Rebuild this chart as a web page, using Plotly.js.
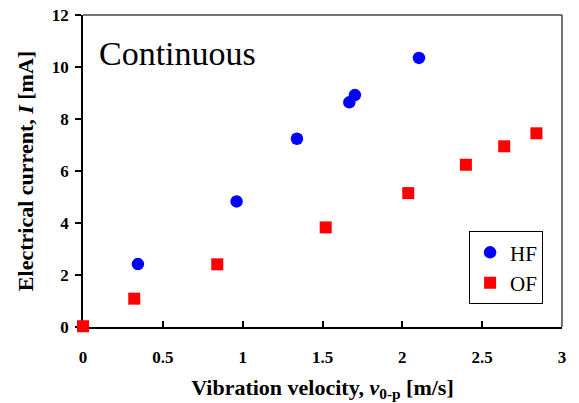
<!DOCTYPE html>
<html><head><meta charset="utf-8">
<script src="https://cdn.plot.ly/plotly-3.0.1.min.js"></script>
<style>html,body{margin:0;padding:0;background:#fff}</style>
</head><body><div id="chart" style="width:579px;height:403px"></div>
<script>
const hfX = [0.344, 0.962, 1.34, 1.668, 1.703, 2.104];
const hfY = [2.42, 4.83, 7.24, 8.64, 8.92, 10.35];
const ofX = [0, 0.321, 0.841, 1.52, 2.037, 2.398, 2.638, 2.84];
const ofY = [0.03, 1.09, 2.41, 3.83, 5.15, 6.24, 6.95, 7.45];
const xTicks = [0, 0.5, 1, 1.5, 2, 2.5, 3];
const xTickText = ["0", "0.5", "1", "1.5", "2", "2.5", "3"];
const yTicks = [0, 2, 4, 6, 8, 10, 12];

const serif = '"Liberation Serif", "Times New Roman", serif';
const traces = [
  {x: hfX, y: hfY, name: "HF", mode: "markers", type: "scatter", cliponaxis: false,
   marker: {symbol: "circle", size: 12.5, color: "#0000FF"}},
  {x: ofX, y: ofY, name: "OF", mode: "markers", type: "scatter", cliponaxis: false,
   marker: {symbol: "square", size: 12, color: "#FF0000"}}
];
const layout = {
  width: 579, height: 403,
  margin: {l: 83, r: 17, t: 15, b: 76},
  paper_bgcolor: "#fff", plot_bgcolor: "#fff",
  font: {family: serif, color: "#000"},
  showlegend: true,
  legend: {x: 0.806, y: 0.19, xanchor: "left", yanchor: "middle",
    bordercolor: "#000", borderwidth: 1, bgcolor: "#fff",
    font: {family: serif, size: 21, color: "#000"}, tracegroupgap: 0},
  xaxis: {range: [0, 3], tickvals: xTicks, ticktext: xTickText,
    ticks: "inside", ticklen: 6, tickwidth: 1.5, tickcolor: "#000",
    showline: true, linecolor: "#000", linewidth: 1.5, showgrid: false, zeroline: false,
    layer: "below traces", ticklabelstandoff: 14,
    tickfont: {family: serif, size: 17, color: "#000", weight: "bold"},
    title: {text: "<b>Vibration velocity, <i>v</i><sub>0-p</sub> [m/s]</b>", standoff: 13,
      font: {family: serif, size: 22, color: "#000"}}},
  yaxis: {range: [0, 12], tickvals: yTicks,
    ticks: "outside", ticklen: 6, tickwidth: 1.5, tickcolor: "#000",
    showline: true, linecolor: "#000", linewidth: 1.5, showgrid: false, zeroline: false,
    layer: "below traces", ticklabelstandoff: 3,
    tickfont: {family: serif, size: 17, color: "#000", weight: "bold"},
    title: {text: "<b>Electrical current, <i>I</i> [mA]</b>", standoff: 12,
      font: {family: serif, size: 22, color: "#000"}}},
  shapes: [
    {type: "line", xref: "paper", yref: "paper", x0: 0, x1: 1, y0: 1, y1: 1, line: {color: "#444", width: 1.5}, layer: "below"},
    {type: "line", xref: "paper", yref: "paper", x0: 1, x1: 1, y0: 0, y1: 1, line: {color: "#444", width: 1.5}, layer: "below"}
  ],
  annotations: [
    {text: "Continuous", xref: "paper", yref: "paper", x: 0.03, y: 0.878, xanchor: "left", yanchor: "middle",
     showarrow: false, font: {family: serif, size: 34, color: "#000"}}
  ]
};
Plotly.newPlot("chart", traces, layout, {displayModeBar: false});
</script></body></html>
